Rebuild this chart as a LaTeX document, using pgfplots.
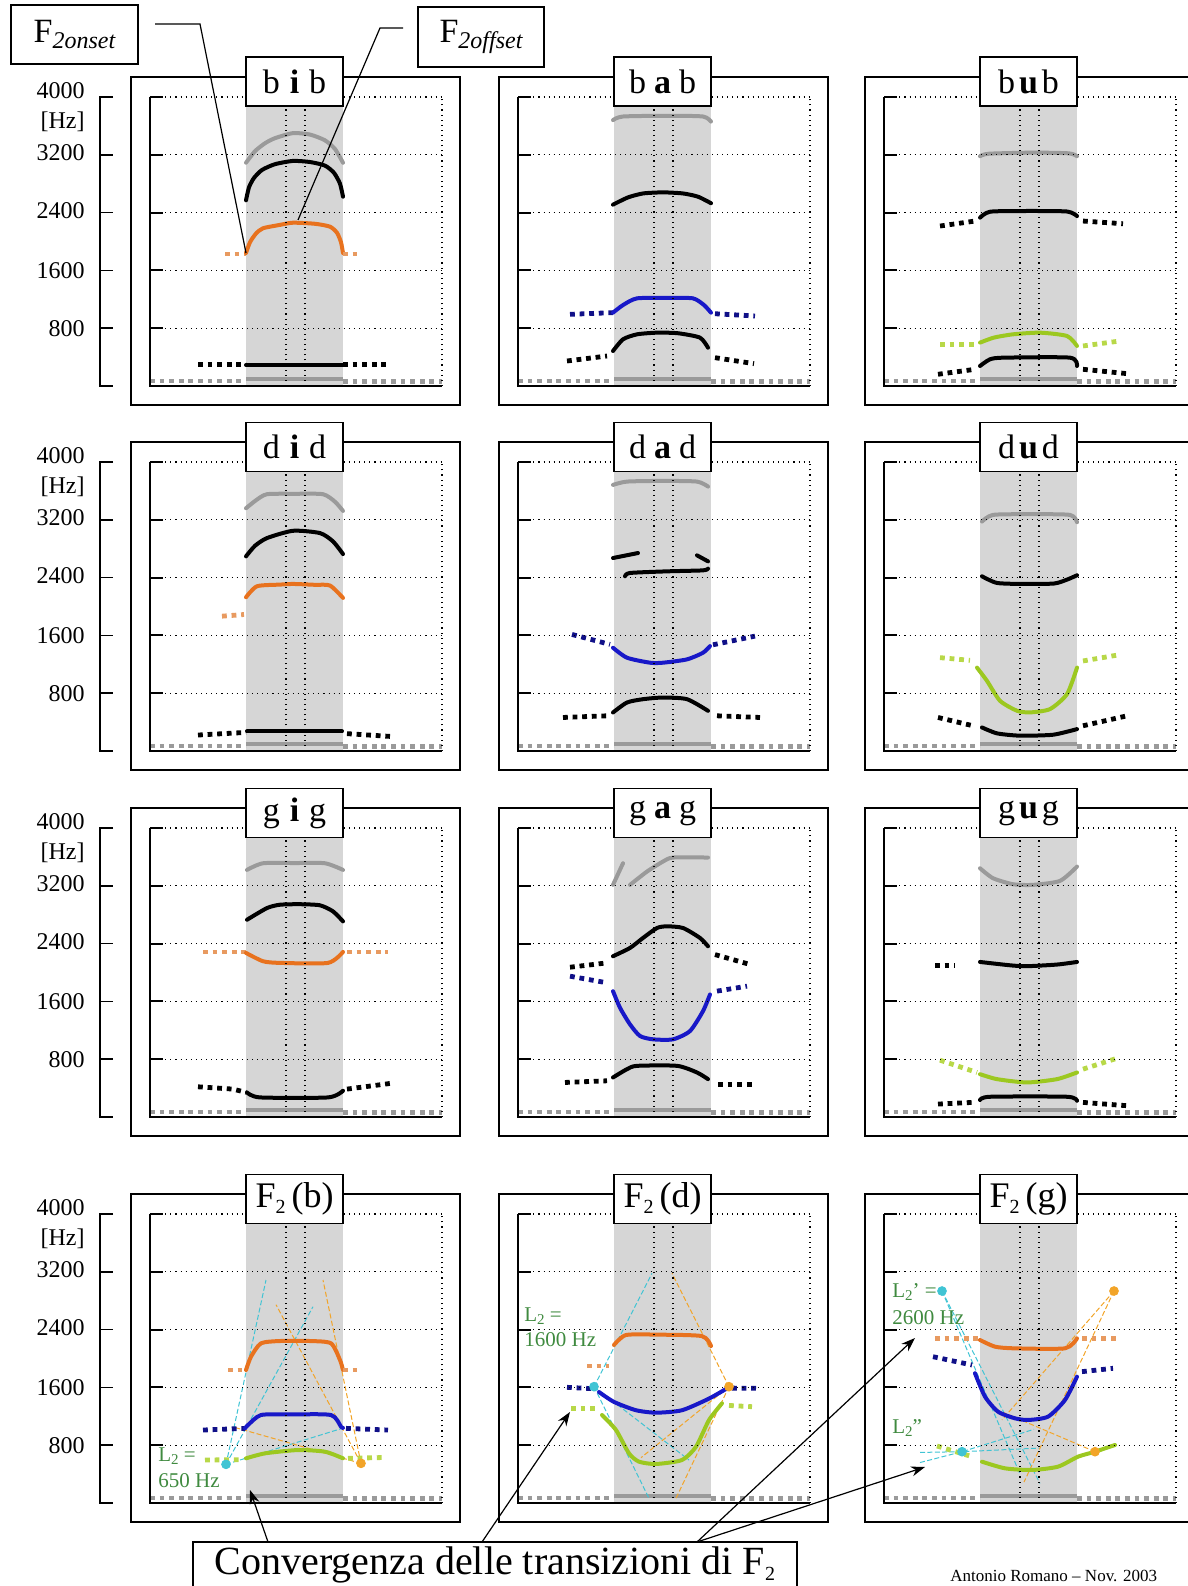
\documentclass[border=0pt]{standalone}
\usepackage{pgfplots}
\pgfplotsset{compat=1.18}
\usepackage{fontspec}
\setmainfont{Liberation Serif}
\usetikzlibrary{arrows.meta}
\definecolor{fgray}{HTML}{9A9A9A}
\definecolor{forange}{HTML}{E8721E}
\definecolor{forangel}{HTML}{E89A60}
\definecolor{fblue}{HTML}{1818C8}
\definecolor{fnavy}{HTML}{101088}
\definecolor{fgreen}{HTML}{9CC820}
\definecolor{fgreenl}{HTML}{B8D848}
\definecolor{fcyan}{HTML}{40C4D4}
\definecolor{fpt}{HTML}{F2A428}
\definecolor{lblgreen}{HTML}{3F8A3F}
\definecolor{shade}{HTML}{D6D6D6}
\pgfplotsset{
 panel/.style={scale only axis, width=146pt, height=144.5pt,
   xmin=0,xmax=292,ymin=0,ymax=4000, anchor=south west,
   axis line style={draw=none}, axis on top,
   ytick={0,800,1600,2400,3200,4000}, yticklabels={},
   xtick={136,155}, xticklabels={},
   ymajorgrids, xmajorgrids,
   grid style={black, line width=0.55pt, dotted},
   ytick pos=left, tick align=inside, major tick length=6.5pt,
   ytick style={black, line width=1pt}, xtick style={draw=none},
   clip=false},
 sol/.style={line width=2pt, line cap=round, line join=round, smooth, tension=0.4, no marks},
 dsh/.style={line width=2.4pt, dash pattern=on 2.4pt off 2.4pt, no marks},
 thin/.style={line width=0.5pt, dash pattern=on 2.5pt off 1.2pt, no marks},
}
\newcommand\shaded{\addplot[fill=shade,draw=none] coordinates {(96,0)(193,0)(193,4000)(96,4000)};}
\newcommand\fzero{\addplot[fgray,dsh] coordinates {(0,70)(96,70)};
 \addplot[fgray,line width=2pt,no marks] coordinates {(96,100)(193,100)};
 \addplot[fgray,dsh] coordinates {(193,65)(292,65)};
 \draw[line width=0.9pt] (axis cs:0,4000)--(axis cs:0,0)--(axis cs:292,0);
 \draw[dotted, line width=0.55pt] (axis cs:292,0)--(axis cs:292,4000);}
\newcommand\Fs[1]{F\raisebox{-0.35ex}{\fontsize{10}{10}\selectfont #1}}
\newcommand\Ls{L\raisebox{-0.35ex}{\fontsize{7.5}{7.5}\selectfont 2}}
\begin{document}
\begin{tikzpicture}
\useasboundingbox (0,0) rectangle (594pt,793pt);
%%%%%%%%%%%%%% ROW 1
\begin{axis}[panel, at={(75pt,600pt)}]
\shaded \fzero
\addplot[fgray,sol] coordinates {(96,3090)(105,3250)(115,3360)(125,3430)(143,3500)(160,3480)(175,3400)(185,3280)(193,3090)};
\addplot[black,sol] coordinates {(96,2570)(99,2750)(104,2880)(112,2990)(125,3070)(143,3115)(160,3100)(175,3050)(184,2950)(190,2800)(193,2620)};
\addplot[forangel,dsh] coordinates {(75,1827)(96,1827)};
\addplot[forange,sol] coordinates {(96,1840)(100,1990)(106,2110)(113,2183)(130,2230)(143,2260)(165,2245)(180,2205)(187,2120)(191,1990)(193,1840)};
\addplot[forangel,dsh] coordinates {(193,1827)(212,1827)};
\addplot[black,dsh] coordinates {(48,300)(96,300)};
\addplot[black,sol] coordinates {(96,290)(193,290)};
\addplot[black,dsh] coordinates {(193,300)(240,300)};
\end{axis}
\begin{axis}[panel, at={(259pt,600pt)}]
\shaded \fzero
\addplot[fgray,sol] coordinates {(95,3680)(105,3730)(150,3740)(185,3730)(193,3660)};
\addplot[black,sol] coordinates {(95,2510)(110,2610)(125,2665)(145,2680)(165,2665)(180,2620)(193,2530)};
\addplot[fnavy,dsh] coordinates {(52,992)(95,1015)};
\addplot[fblue,sol] coordinates {(95,1015)(105,1120)(119,1213)(150,1218)(175,1213)(186,1120)(193,1015)};
\addplot[fnavy,dsh] coordinates {(197,1000)(237,969)};
\addplot[black,dsh] coordinates {(49,346)(89,415)};
\addplot[black,sol] coordinates {(95,484)(105,646)(119,715)(139,738)(160,730)(182,669)(190,530)};
\addplot[black,dsh] coordinates {(197,392)(236,309)};
\end{axis}
\begin{axis}[panel, at={(442pt,600pt)}]
\shaded \fzero
\addplot[fgray,sol] coordinates {(96,3180)(105,3215)(150,3230)(185,3220)(193,3180)};
\addplot[black,dsh] coordinates {(56,2214)(91,2283)};
\addplot[black,sol] coordinates {(96,2330)(106,2412)(140,2422)(183,2415)(193,2352)};
\addplot[black,dsh] coordinates {(199,2283)(239,2246)};
\addplot[fgreenl,dsh] coordinates {(56,577)(91,577)};
\addplot[fgreen,sol] coordinates {(96,600)(110,670)(129,715)(156,738)(183,692)(193,554)};
\addplot[fgreenl,dsh] coordinates {(199,554)(236,623)};
\addplot[black,dsh] coordinates {(54,162)(91,231)};
\addplot[black,sol] coordinates {(96,277)(106,369)(120,392)(186,392)(193,277)};
\addplot[black,dsh] coordinates {(199,231)(243,171)};
\end{axis}
%%%%%%%%%%%%%% ROW 2
\begin{axis}[panel, at={(75pt,417.5pt)}]
\shaded \fzero
\addplot[fgray,sol] coordinates {(96,3360)(106,3470)(117,3554)(145,3560)(173,3554)(185,3450)(193,3323)};
\addplot[black,sol] coordinates {(96,2694)(105,2840)(117,2947)(143,3048)(170,3016)(183,2901)(193,2726)};
\addplot[forangel,dsh] coordinates {(72,1866)(94,1889)};
\addplot[forange,sol] coordinates {(96,2128)(107,2280)(130,2303)(143,2312)(165,2300)(180,2290)(193,2119)};
\addplot[black,dsh] coordinates {(48,221)(96,257)};
\addplot[black,sol] coordinates {(97,270)(192,270)};
\addplot[black,dsh] coordinates {(197,240)(240,202)};
\end{axis}
\begin{axis}[panel, at={(259pt,417.5pt)}]
\shaded \fzero
\addplot[fgray,sol] coordinates {(95,3683)(109,3729)(145,3738)(179,3729)(190,3660)};
\addplot[black,sol] coordinates {(95,2671)(120,2740)};
\addplot[black,sol] coordinates {(179,2708)(190,2625)};
\addplot[black,sol] coordinates {(107,2418)(112,2464)(150,2487)(185,2500)(190,2524)};
\addplot[fnavy,dsh] coordinates {(54,1613)(92,1475)};
\addplot[fblue,sol] coordinates {(95,1429)(109,1291)(132,1222)(145,1222)(169,1268)(185,1360)(192,1452)};
\addplot[fnavy,dsh] coordinates {(195,1470)(237,1590)};
\addplot[black,dsh] coordinates {(45,464)(89,487)};
\addplot[black,sol] coordinates {(95,533)(109,671)(125,717)(145,740)(169,717)(190,556)};
\addplot[black,dsh] coordinates {(199,487)(242,464)};
\end{axis}
\begin{axis}[panel, at={(442pt,417.5pt)}]
\shaded \fzero
\addplot[fgray,sol] coordinates {(98,3176)(109,3268)(145,3277)(186,3268)(193,3167)};
\addplot[black,sol] coordinates {(98,2418)(113,2326)(140,2312)(170,2318)(183,2372)(193,2432)};
\addplot[fgreenl,dsh] coordinates {(56,1292)(86,1255)};
\addplot[fgreen,sol] coordinates {(93,1154)(103,970)(116,695)(133,557)(146,534)(166,580)(183,787)(193,1154)};
\addplot[fgreenl,dsh] coordinates {(199,1246)(234,1329)};
\addplot[black,dsh] coordinates {(54,464)(89,349)};
\addplot[black,sol] coordinates {(98,326)(113,244)(136,212)(169,225)(193,303)};
\addplot[black,dsh] coordinates {(199,349)(243,487)};
\end{axis}
%%%%%%%%%%%%%% ROW 3
\begin{axis}[panel, at={(75pt,234.5pt)}]
\shaded \fzero
\addplot[fgray,sol] coordinates {(97,3420)(113,3512)(145,3515)(175,3512)(193,3420)};
\addplot[black,sol] coordinates {(97,2730)(117,2892)(130,2938)(150,2945)(170,2930)(183,2846)(193,2708)};
\addplot[forangel,dsh] coordinates {(53,2285)(96,2285)};
\addplot[forange,sol] coordinates {(96,2271)(113,2156)(130,2133)(178,2133)(193,2285)};
\addplot[forangel,dsh] coordinates {(197,2285)(238,2285)};
\addplot[black,dsh] coordinates {(48,418)(83,386)(96,340)};
\addplot[black,sol] coordinates {(97,340)(110,271)(178,271)(193,363)};
\addplot[black,dsh] coordinates {(197,386)(240,464)};
\end{axis}
\begin{axis}[panel, at={(259pt,234.5pt)}]
\shaded \fzero
\addplot[fgray,sol] coordinates {(95,3213)(105,3512)};
\addplot[fgray,sol] coordinates {(112,3213)(129,3397)(145,3536)(155,3591)(190,3591)};
\addplot[black,dsh] coordinates {(52,2073)(89,2133)};
\addplot[black,sol] coordinates {(95,2225)(112,2340)(125,2478)(139,2616)(149,2639)(165,2616)(182,2478)(190,2363)};
\addplot[black,dsh] coordinates {(197,2248)(230,2119)};
\addplot[fnavy,dsh] coordinates {(52,1949)(89,1857)};
\addplot[fblue,sol] coordinates {(95,1742)(102,1512)(112,1282)(122,1121)(135,1075)(155,1075)(172,1190)(185,1466)(192,1696)};
\addplot[fnavy,dsh] coordinates {(199,1742)(229,1811)};
\addplot[black,dsh] coordinates {(47,478)(89,501)};
\addplot[black,sol] coordinates {(95,547)(109,662)(119,708)(159,708)(179,616)(190,524)};
\addplot[black,dsh] coordinates {(200,455)(235,455)};
\end{axis}
\begin{axis}[panel, at={(442pt,234.5pt)}]
\shaded \fzero
\addplot[fgray,sol] coordinates {(96,3443)(109,3305)(129,3222)(149,3213)(176,3268)(193,3466)};
\addplot[black,dsh] coordinates {(51,2100)(71,2100)};
\addplot[black,sol] coordinates {(96,2146)(113,2119)(129,2096)(143,2087)(173,2110)(193,2146)};
\addplot[fgreenl,dsh] coordinates {(56,786)(93,616)};
\addplot[fgreen,sol] coordinates {(96,593)(113,524)(143,478)(173,524)(193,616)};
\addplot[fgreenl,dsh] coordinates {(199,662)(233,813)};
\addplot[black,dsh] coordinates {(54,179)(89,202)};
\addplot[black,sol] coordinates {(96,234)(106,280)(183,280)(193,225)};
\addplot[black,dsh] coordinates {(199,202)(243,156)};
\end{axis}
%%%%%%%%%%%%%% ROW 4
\begin{axis}[panel, at={(75pt,41.5pt)}]
\shaded \fzero
\addplot[fcyan,thin] coordinates {(76,535)(116,3086)};
\addplot[fcyan,thin] coordinates {(76,535)(163,2717)};
\addplot[fcyan,thin] coordinates {(76,535)(196,1050)};
\addplot[fpt,thin] coordinates {(211,549)(173,3086)};
\addplot[fpt,thin] coordinates {(211,549)(126,2745)};
\addplot[fpt,thin] coordinates {(211,549)(83,1053)};
\addplot[forangel,dsh] coordinates {(78,1841)(96,1841)};
\addplot[forange,sol] coordinates {(96,1841)(101,2025)(111,2210)(130,2242)(160,2242)(181,2210)(190,1979)(193,1841)};
\addplot[forangel,dsh] coordinates {(193,1841)(211,1841)};
\addplot[fnavy,dsh] coordinates {(53,1010)(95,1033)};
\addplot[fblue,sol] coordinates {(95,1033)(98,1079)(111,1218)(140,1225)(181,1218)(191,1056)(193,1040)};
\addplot[fnavy,dsh] coordinates {(196,1033)(238,1010)};
\addplot[fgreenl,dsh] coordinates {(55,595)(90,600)};
\addplot[fgreen,sol] coordinates {(96,618)(115,687)(148,733)(175,710)(193,618)};
\addplot[fgreenl,dsh] coordinates {(198,618)(235,630)};
\addplot[only marks, mark=*, fcyan, mark size=2.2pt] coordinates {(76,535)};
\addplot[only marks, mark=*, fpt, mark size=2.2pt] coordinates {(211,549)};
\end{axis}
\begin{axis}[panel, at={(259pt,41.5pt)}]
\shaded \fzero
\addplot[fcyan,thin] coordinates {(76,1610)(134,3179)};
\addplot[fcyan,thin] coordinates {(76,1610)(131,65)};
\addplot[fcyan,thin] coordinates {(76,1610)(171,595)};
\addplot[fpt,thin] coordinates {(211,1610)(154,3179)};
\addplot[fpt,thin] coordinates {(211,1610)(158,65)};
\addplot[fpt,thin] coordinates {(211,1610)(123,627)};
\addplot[forangel,dsh] coordinates {(69,1896)(91,1896)};
\addplot[forange,sol] coordinates {(96,2187)(108,2325)(140,2330)(184,2310)(193,2173)};
\addplot[fnavy,dsh] coordinates {(49,1601)(78,1580)};
\addplot[fblue,sol] coordinates {(81,1536)(96,1399)(118,1284)(138,1250)(164,1284)(191,1445)(209,1587)};
\addplot[fnavy,dsh] coordinates {(214,1590)(238,1587)};
\addplot[fgreenl,dsh] coordinates {(53,1310)(78,1310)};
\addplot[fgreen,sol] coordinates {(84,1218)(98,1010)(111,687)(121,572)(138,540)(164,595)(178,779)(191,1148)(204,1379)};
\addplot[fgreenl,dsh] coordinates {(211,1350)(234,1333)};
\addplot[only marks, mark=*, fcyan, mark size=2.2pt] coordinates {(76,1610)};
\addplot[only marks, mark=*, fpt, mark size=2.2pt] coordinates {(211,1610)};
\end{axis}
\begin{axis}[panel, at={(442pt,41.5pt)}]
\shaded \fzero
\addplot[fcyan,thin] coordinates {(58,2934)(136,400)};
\addplot[fcyan,thin] coordinates {(58,2934)(156,270)};
\addplot[fpt,thin] coordinates {(230,2934)(140,290)};
\addplot[fpt,thin] coordinates {(230,2934)(118,1150)};
\addplot[fcyan,thin] coordinates {(36,560)(78,710)(150,1020)};
\addplot[fcyan,thin] coordinates {(36,700)(78,710)(155,760)};
\addplot[fpt,thin] coordinates {(211,710)(120,1250)};
\addplot[forangel,dsh] coordinates {(51,2279)(94,2279)};
\addplot[forange,sol] coordinates {(96,2256)(111,2164)(130,2141)(181,2141)(193,2279)};
\addplot[forangel,dsh] coordinates {(198,2279)(236,2279)};
\addplot[fnavy,dsh] coordinates {(49,2025)(88,1910)};
\addplot[fblue,sol] coordinates {(91,1795)(101,1472)(114,1264)(131,1172)(144,1149)(164,1195)(181,1426)(193,1749)};
\addplot[fnavy,dsh] coordinates {(198,1818)(229,1864)};
\addplot[fgreenl,dsh] coordinates {(53,789)(88,641)};
\addplot[fgreen,sol] coordinates {(98,572)(121,480)(148,457)(174,503)(194,641)(211,710)(231,803)};
\addplot[only marks, mark=*, fcyan, mark size=2.2pt] coordinates {(58,2934)(78,710)};
\addplot[only marks, mark=*, fpt, mark size=2.2pt] coordinates {(230,2934)(211,710)};
\end{axis}
%%%%%%%%%%%%%% decorations in pixel coordinates
\begin{scope}[x=0.5pt,y=-0.5pt,yshift=793pt]
\foreach \pl in {150,518,884}{
 \foreach \pt/\pb in {97/386,462/751,828/1117,1214/1503}{
   \draw[line width=0.8pt] (\pl-19,\pt-20) rectangle (\pl+310,\pb+19);
 }}
% y scales
\foreach \pt/\pb in {97/386,462/751,828/1117,1214/1503}{
  \draw[line width=0.8pt] (113,\pt)--(100,\pt)--(100,\pb)--(113,\pb);
  \foreach \k in {1,2,3,4}{\draw[line width=0.8pt] (100,{\pb-\k*(\pb-\pt)/5})--(113,{\pb-\k*(\pb-\pt)/5});}
  \begin{scope}[every node/.style={anchor=east, inner sep=0pt, font=\fontsize{12}{12}\selectfont}]
  \node at (85,\pt-6) {4000};
  \node at (85,\pt+25) {[Hz]};
  \node at (85,{\pb-4*(\pb-\pt)/5-2}) {3200};
  \node at (85,{\pb-3*(\pb-\pt)/5-2}) {2400};
  \node at (85,{\pb-2*(\pb-\pt)/5}) {1600};
  \node at (85,{\pb-1*(\pb-\pt)/5}) {800};
  \end{scope}
}
% titles
\tikzset{tbox/.style={draw, fill=white, line width=0.8pt, minimum width=48.5pt, minimum height=24.5pt, inner sep=0pt, font=\fontsize{17}{17}\selectfont}}
\node[tbox] at (294.5,81.5) {b\hspace{5pt}\textbf{i}\hspace{5pt}b};
\node[tbox] at (662.5,81.5) {b\hspace{4pt}\textbf{a}\hspace{4pt}b};
\node[tbox] at (1028.5,81.5) {b\hspace{2pt}\textbf{u}\hspace{2pt}b};
\node[tbox] at (294.5,447) {d\hspace{5pt}\textbf{i}\hspace{5pt}d};
\node[tbox] at (662.5,447) {d\hspace{4pt}\textbf{a}\hspace{4pt}d};
\node[tbox] at (1028.5,447) {d\hspace{2pt}\textbf{u}\hspace{2pt}d};
\node[tbox] at (294.5,813) {g\hspace{5pt}\textbf{i}\hspace{5pt}g};
\node[tbox] at (662.5,813) {g\hspace{4pt}\textbf{a}\hspace{4pt}g};
\node[tbox] at (1028.5,813) {g\hspace{2pt}\textbf{u}\hspace{2pt}g};
\node[tbox, font=\fontsize{18}{18}\selectfont] at (294.5,1199) {\Fs{2}\,(b)};
\node[tbox, font=\fontsize{18}{18}\selectfont] at (662.5,1199) {\Fs{2}\,(d)};
\node[tbox, font=\fontsize{18}{18}\selectfont] at (1028.5,1199) {\Fs{2}\,(g)};
% top annotation boxes
\node[draw, line width=0.8pt, minimum width=63.5pt, minimum height=29.5pt, inner sep=0pt, font=\fontsize{17}{17}\selectfont] at (74.5,34.5) {F\raisebox{-0.4ex}{\fontsize{12}{12}\selectfont\itshape 2onset}};
\draw[line width=0.6pt] (155,24)--(200,24)--(246,253);
\node[draw, line width=0.8pt, minimum width=63pt, minimum height=30pt, inner sep=0pt, font=\fontsize{17}{17}\selectfont] at (481,37) {F\raisebox{-0.4ex}{\fontsize{12}{12}\selectfont\itshape 2offset}};
\draw[line width=0.6pt] (403,28)--(380,28)--(298,220);
% green labels
\begin{scope}[every node/.style={anchor=west, inner sep=0pt, text=lblgreen, font=\fontsize{10.5}{10.5}\selectfont}]
\node at (158,1456) {\Ls\ =};
\node at (158,1481) {650 Hz};
\node at (524,1316) {\Ls\ =};
\node at (524,1340) {1600 Hz};
\node at (892,1292) {\Ls\char"0027\ =};
\node at (892,1318) {2600 Hz};
\node at (892,1428) {\Ls\char"0022};
\end{scope}
% bottom box and arrows
\draw[line width=0.8pt] (193,1542) rectangle (797,1620);
\node[anchor=center, inner sep=0pt, font=\fontsize{20}{20}\selectfont] at (495,1565) {Convergenza delle transizioni di \Fs{2}};
\draw[line width=0.6pt, -{Stealth[length=7pt,width=5pt]}] (268,1542)--(250,1490);
\draw[line width=0.6pt, -{Stealth[length=7pt,width=5pt]}] (482,1542)--(570,1412);
\draw[line width=0.6pt, -{Stealth[length=7pt,width=5pt]}] (697,1542)--(915,1338);
\draw[line width=0.6pt, -{Stealth[length=7pt,width=5pt]}] (697,1542)--(925,1467);
\node[anchor=west, inner sep=0pt, font=\fontsize{8.5}{8.5}\selectfont] at (950,1576) {Antonio Romano -- Nov. 2003};
\end{scope}
\end{tikzpicture}
\end{document}
